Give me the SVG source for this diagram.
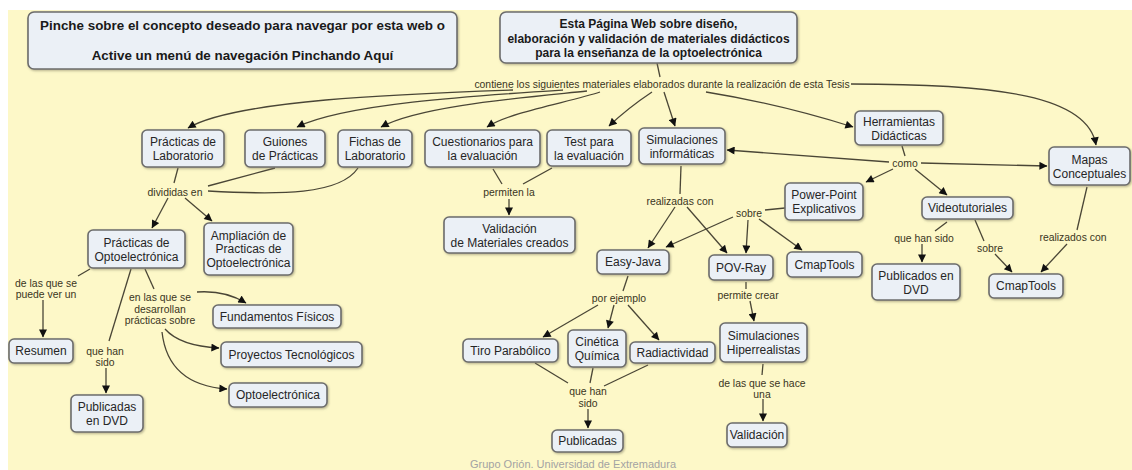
<svg xmlns="http://www.w3.org/2000/svg" width="1132" height="470" viewBox="0 0 1132 470">
<defs>
<marker id="ah" viewBox="0 0 10 10" refX="9.5" refY="5" markerWidth="10" markerHeight="8" markerUnits="userSpaceOnUse" orient="auto">
<path d="M0,0 L10,5 L0,10 z" fill="#111"/>
</marker>
<filter id="sh" x="-10%" y="-10%" width="130%" height="140%">
<feDropShadow dx="1" dy="1.2" stdDeviation="0.8" flood-color="#7d7a60" flood-opacity="0.55"/>
</filter>
<style>
.n rect{fill:#ebf0f6;stroke:#6c6c6c;stroke-width:1.6;filter:url(#sh)}
text{font-family:"Liberation Sans",Arial,sans-serif;text-anchor:middle}
.t{font-size:12px;fill:#262626}
.b{font-weight:bold;fill:#1a1a1a}
.big{font-size:13.4px}
.l{font-size:10.4px;fill:#3a3522}
.c path{stroke:#4a4636;stroke-width:1.3;fill:none}
.c .a{marker-end:url(#ah)}
.f{font-size:11px;fill:#a3a3a3}
</style>
</defs>
<rect x="0" y="0" width="1132" height="470" fill="#ffffff"/>
<rect x="8" y="10" width="1124" height="460" fill="#fdf8c8"/>

<g class="c" id="connectors">
<path d="M657,63 L660,77"/>
<path class="a" d="M513,90 C400,94 235,100 188,128"/>
<path class="a" d="M563,90 C470,96 345,104 297,127"/>
<path class="a" d="M587,91 C520,98 420,106 381,127"/>
<path class="a" d="M600,92 C570,102 510,112 487,127"/>
<path class="a" d="M652,92 Q628,108 609,126"/>
<path class="a" d="M664,92 L675,126"/>
<path class="a" d="M706,92 Q780,104 853,127"/>
<path class="a" d="M851,84 C1000,84 1088,96 1096,145"/>

<path d="M178,168 L174,183"/>
<path d="M275,168 L208,186"/>
<path d="M358,168 C340,195 280,195 208,191"/>
<path class="a" d="M168,198 L152,228"/>
<path class="a" d="M185,198 L212,221"/>

<path d="M90,269 L78,276"/>
<path class="a" d="M43,300 L43,337"/>
<path d="M145,269 L154,289"/>
<path class="a" d="M197,292 Q225,290 246,303"/>
<path class="a" d="M165,329 Q180,346 219,348"/>
<path class="a" d="M162,332 Q168,385 227,389"/>
<path d="M131,269 L109,341"/>
<path class="a" d="M106,368 L106,393"/>

<path d="M493,169 L502,184"/>
<path d="M552,168 L523,184"/>
<path class="a" d="M509,199 L509,215"/>

<path d="M681,166 L680,194"/>
<path class="a" d="M675,207 L648,248"/>
<path class="a" d="M687,207 L727,253"/>
<path d="M785,208 L765,210"/>
<path class="a" d="M733,217 L666,247"/>
<path class="a" d="M748,220 L746,253"/>
<path class="a" d="M759,219 L802,250"/>

<path d="M902,146 L905,156"/>
<path class="a" d="M889,162 L727,150"/>
<path class="a" d="M921,163 L1047,166"/>
<path class="a" d="M893,169 L866,182"/>
<path class="a" d="M915,169 L947,195"/>
<path d="M947,222 L935,231"/>
<path class="a" d="M922,244 L922,262"/>
<path d="M975,220 L984,241"/>
<path class="a" d="M995,254 L1012,272"/>
<path d="M1087,187 L1077,230"/>
<path class="a" d="M1067,244 L1041,272"/>

<path d="M628,276 L623,291"/>
<path class="a" d="M598,305 L543,337"/>
<path class="a" d="M614,305 L608,328"/>
<path class="a" d="M628,305 L659,340"/>
<path d="M535,363 L568,383"/>
<path d="M593,368 L590,383"/>
<path d="M648,365 L604,386"/>
<path class="a" d="M588,409 L588,428"/>

<path d="M746,282 L746,289"/>
<path class="a" d="M750,301 L754,321"/>
<path d="M763,364 L762,375"/>
<path class="a" d="M763,399 L763,421"/>

<text class="l" x="662" y="87.5">contiene los siguientes materiales elaborados durante la realización de esta Tesis</text>
<text class="l" x="175" y="195.5">divididas en</text>
<text class="l" x="46" y="286.5">de las que se</text>
<text class="l" x="46" y="297.5">puede ver un</text>
<text class="l" x="160" y="300.5">en las que se</text>
<text class="l" x="160" y="312.5">desarrollan</text>
<text class="l" x="160" y="324">prácticas sobre</text>
<text class="l" x="105" y="354.5">que han</text>
<text class="l" x="105" y="365.5">sido</text>
<text class="l" x="509" y="195.5">permiten la</text>
<text class="l" x="680" y="204.5">realizadas con</text>
<text class="l" x="749" y="216.5">sobre</text>
<text class="l" x="905" y="166.5">como</text>
<text class="l" x="924" y="241.5">que han sido</text>
<text class="l" x="990" y="251.5">sobre</text>
<text class="l" x="1073" y="240.5">realizados con</text>
<text class="l" x="619" y="301.5">por ejemplo</text>
<text class="l" x="588" y="394.5">que han</text>
<text class="l" x="588" y="406.5">sido</text>
<text class="l" x="748" y="298.5">permite crear</text>
<text class="l" x="762" y="386.5">de las que se hace</text>
<text class="l" x="762" y="397.5">una</text>
</g>

<g class="n" id="n-pinche"><rect x="28" y="12" width="429" height="57" rx="6"/>
<text class="t b big" x="242.5" y="29.5">Pinche sobre el concepto deseado para navegar por esta web o</text>
<text class="t b big" x="242.5" y="59.5">Active un menú de navegación Pinchando Aquí</text></g>

<g class="n" id="n-esta"><rect x="500" y="12" width="297" height="51" rx="6"/>
<text class="t b" x="648.5" y="28">Esta Página Web sobre diseño,</text>
<text class="t b" x="648.5" y="42.5">elaboración y validación de materiales didácticos</text>
<text class="t b" x="648.5" y="57">para la enseñanza de la optoelectrónica</text></g>

<g class="n" id="n-lab"><rect x="142" y="130" width="82" height="37" rx="5"/>
<text class="t" x="183" y="146">Prácticas de</text><text class="t" x="183" y="160">Laboratorio</text></g>

<g class="n" id="n-guiones"><rect x="245" y="130" width="80" height="37" rx="5"/>
<text class="t" x="285" y="146">Guiones</text><text class="t" x="285" y="160">de Prácticas</text></g>

<g class="n" id="n-fichas"><rect x="338" y="130" width="74" height="37" rx="5"/>
<text class="t" x="375" y="146">Fichas de</text><text class="t" x="375" y="160">Laboratorio</text></g>

<g class="n" id="n-cuest"><rect x="425" y="130" width="115" height="37" rx="5"/>
<text class="t" x="482.5" y="146">Cuestionarios para</text><text class="t" x="482.5" y="160">la evaluación</text></g>

<g class="n" id="n-test"><rect x="547" y="130" width="84" height="36" rx="5"/>
<text class="t" x="589" y="145.5">Test para</text><text class="t" x="589" y="159.5">la evaluación</text></g>

<g class="n" id="n-sim"><rect x="639" y="128" width="86" height="36" rx="5"/>
<text class="t" x="682" y="143.5">Simulaciones</text><text class="t" x="682" y="157.5">informáticas</text></g>

<g class="n" id="n-herr"><rect x="855" y="111" width="88" height="34" rx="5"/>
<text class="t" x="899" y="125.5">Herramientas</text><text class="t" x="899" y="139.5">Didácticas</text></g>

<g class="n" id="n-mapas"><rect x="1049" y="147" width="81" height="38" rx="5"/>
<text class="t" x="1089.5" y="163.5">Mapas</text><text class="t" x="1089.5" y="177.5">Conceptuales</text></g>

<g class="n" id="n-popto"><rect x="88" y="230" width="97" height="38" rx="5"/>
<text class="t" x="136.5" y="246.5">Prácticas de</text><text class="t" x="136.5" y="260.5">Optoelectrónica</text></g>

<g class="n" id="n-ampl"><rect x="204" y="223" width="89" height="52" rx="5"/>
<text class="t" x="248.5" y="239.5">Ampliación de</text><text class="t" x="248.5" y="253">Practicas de</text><text class="t" x="248.5" y="266.5">Optoelectrónica</text></g>

<g class="n" id="n-resumen"><rect x="9" y="339" width="64" height="24" rx="5"/>
<text class="t" x="41" y="355">Resumen</text></g>

<g class="n" id="n-fund"><rect x="213" y="305" width="128" height="23" rx="5"/>
<text class="t" x="277" y="320.5">Fundamentos Físicos</text></g>

<g class="n" id="n-proy"><rect x="221" y="342" width="141" height="25" rx="5"/>
<text class="t" x="291.5" y="358.5">Proyectos Tecnológicos</text></g>

<g class="n" id="n-opto"><rect x="229" y="383" width="98" height="24" rx="5"/>
<text class="t" x="278" y="399">Optoelectrónica</text></g>

<g class="n" id="n-pubdvd"><rect x="71" y="395" width="72" height="37" rx="5"/>
<text class="t" x="107" y="411">Publicadas</text><text class="t" x="107" y="425">en DVD</text></g>

<g class="n" id="n-valmat"><rect x="444" y="217" width="131" height="36" rx="5"/>
<text class="t" x="509.5" y="232.5">Validación</text><text class="t" x="509.5" y="246.5">de Materiales creados</text></g>

<g class="n" id="n-easy"><rect x="597" y="250" width="72" height="24" rx="5"/>
<text class="t" x="633" y="266">Easy-Java</text></g>

<g class="n" id="n-pov"><rect x="709" y="255" width="64" height="25" rx="5"/>
<text class="t" x="741" y="271.5">POV-Ray</text></g>

<g class="n" id="n-cmap1"><rect x="787" y="252" width="75" height="25" rx="5"/>
<text class="t" x="824.5" y="268.5">CmapTools</text></g>

<g class="n" id="n-pp"><rect x="785" y="183" width="78" height="37" rx="5"/>
<text class="t" x="824" y="199">Power-Point</text><text class="t" x="824" y="213">Explicativos</text></g>

<g class="n" id="n-video"><rect x="922" y="197" width="91" height="22" rx="5"/>
<text class="t" x="967.5" y="212">Videotutoriales</text></g>

<g class="n" id="n-pubdvd2"><rect x="872" y="264" width="88" height="36" rx="5"/>
<text class="t" x="916" y="279.5">Publicados en</text><text class="t" x="916" y="293.5">DVD</text></g>

<g class="n" id="n-cmap2"><rect x="989" y="274" width="74" height="24" rx="5"/>
<text class="t" x="1026" y="290">CmapTools</text></g>

<g class="n" id="n-tiro"><rect x="463" y="339" width="95" height="23" rx="5"/>
<text class="t" x="510.5" y="354.5">Tiro Parabólico</text></g>

<g class="n" id="n-cinetica"><rect x="568" y="330" width="58" height="37" rx="5"/>
<text class="t" x="597" y="346">Cinética</text><text class="t" x="597" y="360">Química</text></g>

<g class="n" id="n-radio"><rect x="630" y="342" width="85" height="21" rx="5"/>
<text class="t" x="672.5" y="356.5">Radiactividad</text></g>

<g class="n" id="n-publicadas"><rect x="552" y="430" width="71" height="22" rx="5"/>
<text class="t" x="587.5" y="445">Publicadas</text></g>

<g class="n" id="n-simhiper"><rect x="720" y="323" width="87" height="39" rx="5"/>
<text class="t" x="763.5" y="339.5">Simulaciones</text><text class="t" x="763.5" y="353.5">Hiperrealistas</text></g>

<g class="n" id="n-valid"><rect x="727" y="423" width="60" height="24" rx="5"/>
<text class="t" x="757" y="439">Validación</text></g>

<text class="f" x="573" y="468">Grupo Orión. Universidad de Extremadura</text>
</svg>
